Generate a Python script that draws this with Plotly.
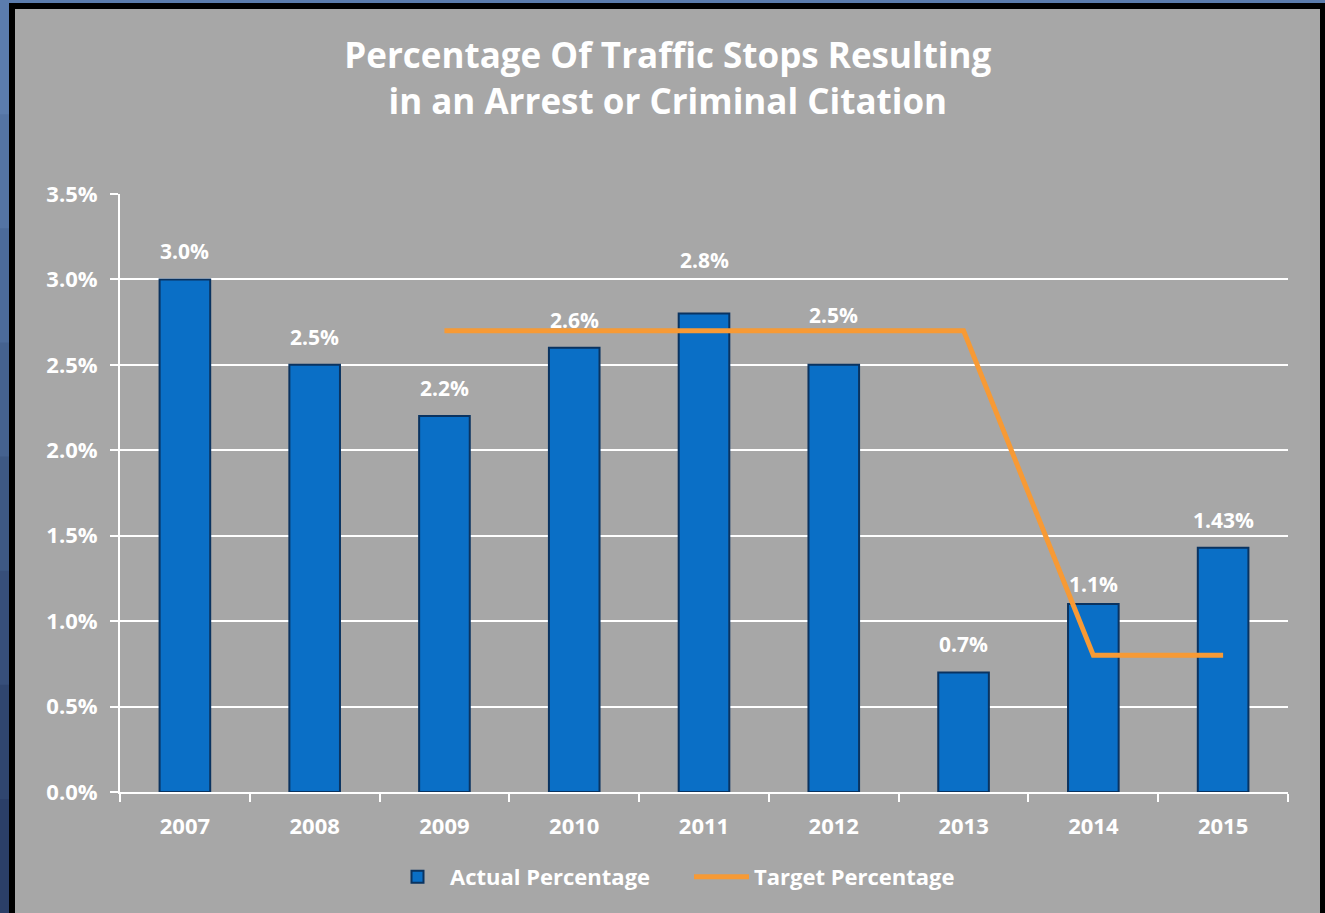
import plotly.graph_objects as go

# chart data
years = ["2007", "2008", "2009", "2010", "2011", "2012", "2013", "2014", "2015"]
actual_pct = [3.0, 2.5, 2.2, 2.6, 2.8, 2.5, 0.7, 1.1, 1.43]
actual_labels = ["3.0%", "2.5%", "2.2%", "2.6%", "2.8%", "2.5%", "0.7%", "1.1%", "1.43%"]
target_years = ["2009", "2010", "2011", "2012", "2013", "2014", "2015"]
target_pct = [2.7, 2.7, 2.7, 2.7, 2.7, 0.8, 0.8]

# label nudges (pixels) where the original moved a label clear of the target line
label_shift = {"2011": 26, "2012": 22, "2014": -8}

W, H = 1325, 913
ML, MR, MT, MB = 120, 37, 194, 121
PW, PH = W - ML - MR, H - MT - MB

GRAY = "#a7a7a7"
WHITE = "#ffffff"
FONT = "Open Sans"


def px_x(p):
    return (p - ML) / PW


def px_y(p):
    return (H - MB - p) / PH


fig = go.Figure()

fig.add_trace(
    go.Bar(
        x=years,
        y=actual_pct,
        name="Actual Percentage",
        marker=dict(color="#0a6fc6", line=dict(color="#0a3360", width=2)),
    )
)

fig.add_trace(
    go.Scatter(
        x=target_years,
        y=target_pct,
        name="Target Percentage",
        mode="lines",
        line=dict(color="#f79a35", width=5),
    )
)

# data labels: category axis positions given by index so they don't touch autorange
annotations = []
for i, (yr, v, lab) in enumerate(zip(years, actual_pct, actual_labels)):
    annotations.append(
        dict(
            x=i,
            y=v,
            text=lab,
            showarrow=False,
            yanchor="bottom",
            yshift=12 + label_shift.get(yr, 0),
            font=dict(family=FONT, size=21, color=WHITE, weight="bold"),
        )
    )

# outer frame: blue strip with a rough vertical gradient, then black border
shapes = []
blues = ["#5b7cad", "#5474a4", "#4c6b9a", "#45628f", "#3e5984", "#374f7a", "#30466f", "#2b3f68"]
band = H / len(blues)
for i, c in enumerate(blues):
    shapes.append(
        dict(type="rect", xref="paper", yref="paper", layer="below",
             x0=px_x(0), x1=px_x(9), y0=px_y(i * band), y1=px_y((i + 1) * band + 1),
             fillcolor=c, line=dict(width=0))
    )
shapes.append(
    dict(type="rect", xref="paper", yref="paper", layer="below",
         x0=px_x(0), x1=px_x(W), y0=px_y(0), y1=px_y(3),
         fillcolor=blues[0], line=dict(width=0))
)
shapes.append(
    dict(type="rect", xref="paper", yref="paper", layer="below",
         x0=px_x(12), x1=px_x(1323), y0=px_y(6), y1=px_y(H + 20),
         fillcolor="rgba(0,0,0,0)", line=dict(color="#000000", width=6))
)

fig.update_layout(
    width=W,
    height=H,
    margin=dict(l=ML, r=MR, t=MT, b=MB, autoexpand=False),
    paper_bgcolor=GRAY,
    plot_bgcolor=GRAY,
    bargap=0.61,
    title=dict(
        text="Percentage Of Traffic Stops Resulting<br>in an Arrest or Criminal Citation",
        x=0.504,
        xanchor="center",
        y=1 - 68 / H,
        yanchor="middle",
        font=dict(family=FONT, size=35, color=WHITE, weight="bold"),
    ),
    legend=dict(
        orientation="h",
        x=px_x(385),
        xanchor="left",
        y=px_y(877),
        yanchor="middle",
        font=dict(family=FONT, size=22, color=WHITE, weight="bold"),
        bgcolor="rgba(0,0,0,0)",
        itemwidth=55,
        entrywidth=234,
        entrywidthmode="pixels",
    ),
    annotations=annotations,
    shapes=shapes,
)

fig.update_xaxes(
    type="category",
    showgrid=False,
    showline=True,
    linecolor=WHITE,
    linewidth=2,
    ticks="outside",
    tickson="boundaries",
    ticklen=8,
    tickwidth=2,
    tickcolor=WHITE,
    ticklabelstandoff=14,
    tickfont=dict(family=FONT, size=22, color=WHITE, weight="bold"),
    fixedrange=True,
)

fig.update_yaxes(
    range=[0, 3.5],
    dtick=0.5,
    tickformat=".1f",
    ticksuffix="%",
    showgrid=True,
    gridcolor=WHITE,
    gridwidth=2,
    zeroline=False,
    showline=True,
    linecolor=WHITE,
    linewidth=2,
    ticks="outside",
    ticklen=8,
    tickwidth=2,
    tickcolor=WHITE,
    ticklabelstandoff=8,
    tickfont=dict(family=FONT, size=22, color=WHITE, weight="bold"),
    fixedrange=True,
)

fig.write_html(
    "out.html",
    config={"displayModeBar": False},
    post_script="document.body.style.margin='0';",
)
